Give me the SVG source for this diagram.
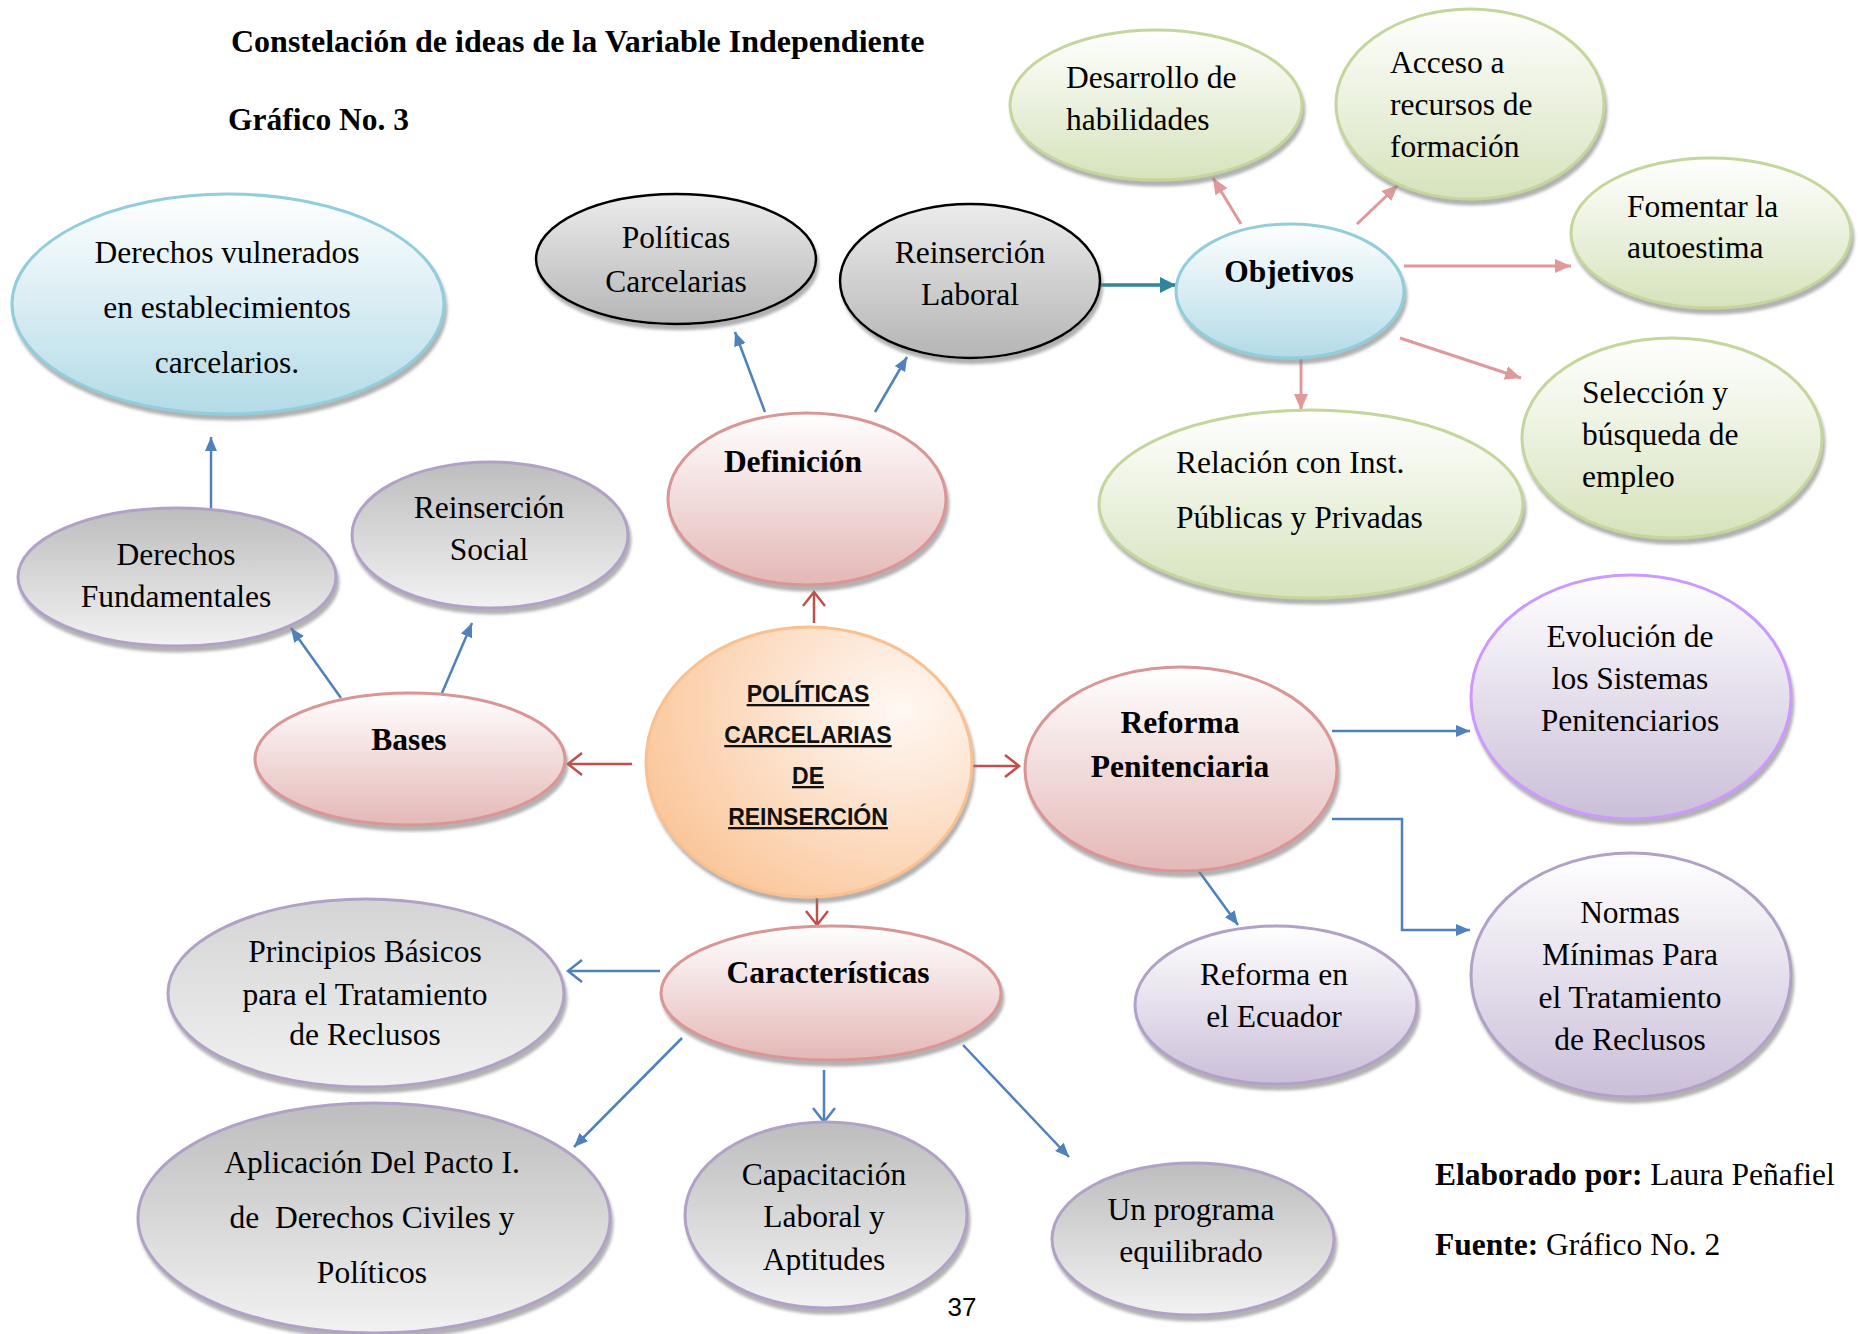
<svg xmlns="http://www.w3.org/2000/svg" width="1860" height="1334" viewBox="0 0 1860 1334">
<style>
.t{font-family:"Liberation Serif","Times New Roman",serif;font-size:31.5px;fill:#000}
.b{font-weight:bold}
.m{text-anchor:middle}
.cen{font-family:"Liberation Sans",Arial,sans-serif;font-size:23px;font-weight:bold;text-decoration:underline;text-anchor:middle;fill:#111}
.pg{font-family:"Liberation Sans",Arial,sans-serif;font-size:26px;fill:#000}
.blue{fill:url(#gBlue);stroke:#92cddc;stroke-width:3}
.green{fill:url(#gGreen);stroke:#c3d69b;stroke-width:3}
.pink{fill:url(#gPink);stroke:#d99694;stroke-width:3}
.grayk{fill:url(#gGrayK);stroke:#000;stroke-width:2.5}
.grayp{fill:url(#gGrayP);stroke:#b2a1c7;stroke-width:3}
.grayl{fill:url(#gGrayL);stroke:#b2a1c7;stroke-width:3}
.purple{fill:url(#gPurple);stroke:#b2a1c7;stroke-width:3}
.orange{fill:url(#gOrange);stroke:#fac08f;stroke-width:3}
.sh{filter:url(#sh)}
.cb{fill:none;stroke:#4f81bd;stroke-width:2.5}
.cr{fill:none;stroke:#c0504d;stroke-width:2.5}
.cp{fill:none;stroke:#e0999a;stroke-width:3}
.ct{fill:none;stroke:#31849b;stroke-width:3.5}
</style>
<defs>
<linearGradient id="gBlue" x1="0" y1="0" x2="0" y2="1"><stop offset="0" stop-color="#ffffff"/><stop offset="1" stop-color="#b3dbe7"/></linearGradient>
<linearGradient id="gGreen" x1="0" y1="0" x2="0" y2="1"><stop offset="0" stop-color="#ffffff"/><stop offset="1" stop-color="#d6e3bc"/></linearGradient>
<linearGradient id="gPink" x1="0" y1="0" x2="0" y2="1"><stop offset="0" stop-color="#ffffff"/><stop offset="1" stop-color="#e4b8b7"/></linearGradient>
<linearGradient id="gGrayK" x1="0" y1="0" x2="0" y2="1"><stop offset="0" stop-color="#ececec"/><stop offset="1" stop-color="#b5b5b5"/></linearGradient>
<linearGradient id="gGrayP" x1="0" y1="0" x2="0" y2="1"><stop offset="0" stop-color="#bdbdbd"/><stop offset="1" stop-color="#f2f2f2"/></linearGradient>
<linearGradient id="gGrayL" x1="0" y1="0" x2="0" y2="1"><stop offset="0" stop-color="#d4d4d4"/><stop offset="1" stop-color="#f1f1f1"/></linearGradient>
<linearGradient id="gPurple" x1="0" y1="0" x2="0" y2="1"><stop offset="0" stop-color="#ffffff"/><stop offset="1" stop-color="#cbbfd9"/></linearGradient>
<radialGradient id="gOrange" cx="0.78" cy="0.3" r="0.9"><stop offset="0" stop-color="#fff8f3"/><stop offset="0.35" stop-color="#fde6d4"/><stop offset="1" stop-color="#fbc394"/></radialGradient>
<filter id="sh" x="-10%" y="-10%" width="130%" height="140%"><feDropShadow dx="2" dy="5" stdDeviation="1.5" flood-color="#7f7f7f" flood-opacity="0.6"/></filter>
<clipPath id="capClip"><rect x="600" y="1100" width="450" height="175"/></clipPath>
<marker id="aB" markerUnits="userSpaceOnUse" markerWidth="14" markerHeight="12" refX="14" refY="6" orient="auto"><path d="M0,0 L14,6 L0,12 z" fill="#4f81bd"/></marker>
<marker id="aP" markerUnits="userSpaceOnUse" markerWidth="16" markerHeight="14" refX="16" refY="7" orient="auto"><path d="M0,0 L16,7 L0,14 z" fill="#e0999a"/></marker>
<marker id="aT" markerUnits="userSpaceOnUse" markerWidth="16" markerHeight="16" refX="16" refY="8" orient="auto"><path d="M0,0 L16,8 L0,16 z" fill="#31849b"/></marker>
<marker id="vR" markerUnits="userSpaceOnUse" markerWidth="18" markerHeight="26" refX="15" refY="13" orient="auto"><path d="M1,2 L15,13 L1,24" fill="none" stroke="#c0504d" stroke-width="2.5"/></marker>
<marker id="vB" markerUnits="userSpaceOnUse" markerWidth="18" markerHeight="26" refX="15" refY="13" orient="auto"><path d="M1,2 L15,13 L1,24" fill="none" stroke="#4f81bd" stroke-width="2.5"/></marker>
</defs>
<rect width="1860" height="1334" fill="#ffffff"/>
<g id="title">
<text class="t b" x="231" y="52" style="font-size:32px">Constelación de ideas de la Variable Independiente</text>
<text class="t b" x="228" y="130">Gráfico No. 3</text>
</g>
<g id="connectors">
<line class="cb" x1="211" y1="510" x2="211" y2="437" marker-end="url(#aB)"/>
<line class="cb" x1="765" y1="412" x2="735" y2="332" marker-end="url(#aB)"/>
<line class="cb" x1="875" y1="412" x2="907" y2="357" marker-end="url(#aB)"/>
<line class="ct" x1="1099" y1="285" x2="1176" y2="285" marker-end="url(#aT)"/>
<line class="cp" x1="1241" y1="224" x2="1213" y2="178" marker-end="url(#aP)"/>
<line class="cp" x1="1357" y1="224" x2="1398" y2="185" marker-end="url(#aP)"/>
<line class="cp" x1="1404" y1="266" x2="1571" y2="266" marker-end="url(#aP)"/>
<line class="cp" x1="1400" y1="338" x2="1521" y2="378" marker-end="url(#aP)"/>
<line class="cp" x1="1301" y1="356" x2="1301" y2="410" marker-end="url(#aP)"/>
<line class="cr" x1="814" y1="623" x2="814" y2="592" marker-end="url(#vR)"/>
<line class="cb" x1="341" y1="698" x2="291" y2="628" marker-end="url(#aB)"/>
<line class="cb" x1="442" y1="693" x2="472" y2="623" marker-end="url(#aB)"/>
<line class="cr" x1="632" y1="764" x2="568" y2="764" marker-end="url(#vR)"/>
<line class="cr" x1="969" y1="766" x2="1019" y2="766" marker-end="url(#vR)"/>
<line class="cb" x1="1332" y1="731" x2="1470" y2="731" marker-end="url(#aB)"/>
<polyline class="cb" points="1332,819 1402,819 1402,930 1470,930" marker-end="url(#aB)"/>
<line class="cb" x1="1198" y1="870" x2="1238" y2="925" marker-end="url(#aB)"/>
<line class="cr" x1="817" y1="893" x2="817" y2="925" marker-end="url(#vR)"/>
<line class="cb" x1="660" y1="971" x2="568" y2="971" marker-end="url(#vB)"/>
<line class="cb" x1="682" y1="1038" x2="574" y2="1147" marker-end="url(#aB)"/>
<line class="cb" x1="824" y1="1070" x2="824" y2="1122" marker-end="url(#vB)"/>
<line class="cb" x1="963" y1="1045" x2="1069" y2="1157" marker-end="url(#aB)"/>
</g>
<g id="n-derechos-vulnerados">
<ellipse class="blue sh" cx="228" cy="304" rx="216" ry="110"/>
<text class="t m" x="227" y="263">Derechos vulnerados</text>
<text class="t m" x="227" y="318">en establecimientos</text>
<text class="t m" x="227" y="373">carcelarios.</text>
</g>
<g id="n-politicas-carcelarias">
<ellipse class="grayk sh" cx="676" cy="259" rx="140" ry="65"/>
<text class="t m" x="676" y="248">Políticas</text>
<text class="t m" x="676" y="292">Carcelarias</text>
</g>
<g id="n-reinsercion-laboral">
<ellipse class="grayk sh" cx="970" cy="281" rx="130" ry="77"/>
<text class="t m" x="970" y="263">Reinserción</text>
<text class="t m" x="970" y="305">Laboral</text>
</g>
<g id="n-objetivos">
<ellipse class="blue sh" cx="1290" cy="291" rx="114" ry="67"/>
<text class="t b m" x="1289" y="282">Objetivos</text>
</g>
<g id="n-desarrollo">
<ellipse class="green sh" cx="1156" cy="105" rx="146" ry="75"/>
<text class="t" x="1066" y="88">Desarrollo de</text>
<text class="t" x="1066" y="130">habilidades</text>
</g>
<g id="n-acceso">
<ellipse class="green sh" cx="1470" cy="104" rx="134" ry="95"/>
<text class="t" x="1390" y="73">Acceso a</text>
<text class="t" x="1390" y="115">recursos de</text>
<text class="t" x="1390" y="157">formación</text>
</g>
<g id="n-fomentar">
<ellipse class="green sh" cx="1711" cy="233" rx="140" ry="75"/>
<text class="t" x="1627" y="217">Fomentar la</text>
<text class="t" x="1627" y="258">autoestima</text>
</g>
<g id="n-seleccion">
<ellipse class="green sh" cx="1672" cy="438" rx="150" ry="100"/>
<text class="t" x="1582" y="403">Selección y</text>
<text class="t" x="1582" y="445">búsqueda de</text>
<text class="t" x="1582" y="487">empleo</text>
</g>
<g id="n-relacion">
<ellipse class="green sh" cx="1311" cy="504" rx="212" ry="94"/>
<text class="t" x="1176" y="473">Relación con Inst.</text>
<text class="t" x="1176" y="528">Públicas y Privadas</text>
</g>
<g id="n-definicion">
<ellipse class="pink sh" cx="807" cy="499" rx="139" ry="86"/>
<text class="t b m" x="793" y="472">Definición</text>
</g>
<g id="n-derechos-fundamentales">
<ellipse class="grayp sh" cx="177" cy="577" rx="159" ry="69"/>
<text class="t m" x="176" y="565">Derechos</text>
<text class="t m" x="176" y="607">Fundamentales</text>
</g>
<g id="n-reinsercion-social">
<ellipse class="grayp sh" cx="490" cy="535" rx="138" ry="73"/>
<text class="t m" x="489" y="518">Reinserción</text>
<text class="t m" x="489" y="560">Social</text>
</g>
<g id="n-bases">
<ellipse class="pink sh" cx="410" cy="759" rx="155" ry="66"/>
<text class="t b m" x="409" y="750">Bases</text>
</g>
<g id="n-politicas-reinsercion">
<ellipse class="orange sh" cx="809" cy="762" rx="163" ry="135"/>
<text class="cen" x="808" y="702">POLÍTICAS</text>
<text class="cen" x="808" y="743">CARCELARIAS</text>
<text class="cen" x="808" y="784">DE</text>
<text class="cen" x="808" y="825">REINSERCIÓN</text>
</g>
<g id="n-reforma-penitenciaria">
<ellipse class="pink sh" cx="1181" cy="769" rx="156" ry="102"/>
<text class="t b m" x="1180" y="733">Reforma</text>
<text class="t b m" x="1180" y="777">Penitenciaria</text>
</g>
<g id="n-evolucion">
<ellipse class="purple sh" cx="1631" cy="697" rx="160" ry="122" style="stroke:#cc99ff"/>
<text class="t m" x="1630" y="647">Evolución de</text>
<text class="t m" x="1630" y="689">los Sistemas</text>
<text class="t m" x="1630" y="731">Penitenciarios</text>
</g>
<g id="n-normas">
<ellipse class="purple sh" cx="1631" cy="975" rx="160" ry="122"/>
<text class="t m" x="1630" y="923">Normas</text>
<text class="t m" x="1630" y="965">Mínimas Para</text>
<text class="t m" x="1630" y="1008">el Tratamiento</text>
<text class="t m" x="1630" y="1050">de Reclusos</text>
</g>
<g id="n-reforma-ecuador">
<ellipse class="purple sh" cx="1276" cy="1005" rx="141" ry="79"/>
<text class="t m" x="1274" y="985">Reforma en</text>
<text class="t m" x="1274" y="1027">el Ecuador</text>
</g>
<g id="n-caracteristicas">
<ellipse class="pink sh" cx="831" cy="993" rx="170" ry="67"/>
<text class="t b m" x="828" y="983">Características</text>
</g>
<g id="n-principios">
<ellipse class="grayl sh" cx="366" cy="993" rx="198" ry="94"/>
<text class="t m" x="365" y="962">Principios Básicos</text>
<text class="t m" x="365" y="1005">para el Tratamiento</text>
<text class="t m" x="365" y="1045">de Reclusos</text>
</g>
<g id="n-aplicacion">
<ellipse class="grayp sh" cx="374" cy="1218" rx="236" ry="115"/>
<text class="t m" x="372" y="1173">Aplicación Del Pacto I.</text>
<text class="t m" x="372" y="1228" xml:space="preserve">de  Derechos Civiles y</text>
<text class="t m" x="372" y="1283">Políticos</text>
</g>
<g id="n-capacitacion">
<ellipse class="grayp sh" cx="826" cy="1215" rx="141" ry="93"/>
<text class="t m" x="824" y="1185">Capacitación</text>
<text class="t m" x="824" y="1227">Laboral y</text>
<text class="t m" x="824" y="1270" clip-path="url(#capClip)">Aptitudes</text>
</g>
<g id="n-programa">
<ellipse class="grayp sh" cx="1193" cy="1239" rx="141" ry="76"/>
<text class="t m" x="1191" y="1220">Un programa</text>
<text class="t m" x="1191" y="1262">equilibrado</text>
</g>
<g id="footer">
<text class="t" x="1435" y="1185"><tspan class="b">Elaborado por:</tspan> Laura Peñafiel</text>
<text class="t" x="1435" y="1255"><tspan class="b">Fuente:</tspan> Gráfico No. 2</text>
<text class="pg" x="962" y="1316" text-anchor="middle">37</text>
</g>
</svg>
